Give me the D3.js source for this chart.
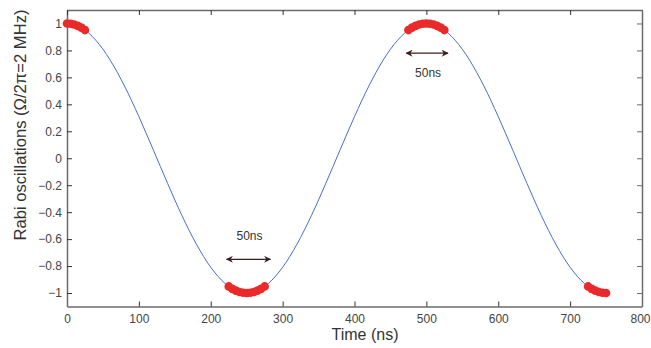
<!DOCTYPE html>
<html><head><meta charset="utf-8">
<script src="https://cdn.jsdelivr.net/npm/d3@7"></script>
<style>body{margin:0;background:#fff}svg{display:block}text{font-family:"Liberation Sans",Arial,sans-serif}</style>
</head><body>
<svg id="c" width="651" height="348"></svg>
<script>
const curveTimes = d3.range(0, 751, 10);
const curveValues = [
 1,0.992,0.969,0.930,0.876,0.809,0.729,0.637,0.536,0.426,0.309,0.187,0.063,-0.063,-0.187,-0.309,-0.426,-0.536,-0.637,-0.729,-0.809,-0.876,-0.930,-0.969,-0.992,
 -1,-0.992,-0.969,-0.930,-0.876,-0.809,-0.729,-0.637,-0.536,-0.426,-0.309,-0.187,-0.063,0.063,0.187,0.309,0.426,0.536,0.637,0.729,0.809,0.876,0.930,0.969,0.992,
 1,0.992,0.969,0.930,0.876,0.809,0.729,0.637,0.536,0.426,0.309,0.187,0.063,-0.063,-0.187,-0.309,-0.426,-0.536,-0.637,-0.729,-0.809,-0.876,-0.930,-0.969,-0.992,-1
];
// Red highlighted points
const dotTimes = [0,5,10,15,20,25, 225,230,235,240,245,250,255,260,265,270,275, 475,480,485,490,495,500,505,510,515,520,525, 725,730,735,740,745,750];
const dotValues = [1,0.998,0.992,0.982,0.969,0.951, -0.951,-0.969,-0.982,-0.992,-0.998,-1,-0.998,-0.992,-0.982,-0.969,-0.951, 0.951,0.969,0.982,0.992,0.998,1,0.998,0.992,0.982,0.969,0.951, -0.951,-0.969,-0.982,-0.992,-0.998,-1];
const xTicks = [0,100,200,300,400,500,600,700,800];
const yTicks = [-1,-0.8,-0.6,-0.4,-0.2,0,0.2,0.4,0.6,0.8,1];
// Annotations: arrow start/end (ns), y-value, label
const annStart = [222, 472];
const annEnd = [283, 530];
const annY = [-0.75, 0.78];
const annLabelY = [-0.585, 0.625];
const annLabels = ["50ns", "50ns"];

const svg = d3.select("#c");
const L = 67, R = 642, T = 10, B = 306.5;
const x = d3.scaleLinear().domain([0, 800]).range([L, R]);
const y = d3.scaleLinear().domain([-1.1, 1.1]).range([B, T]);
const axisColor = "#6b6b6b";

const fmt = d => d3.format("")(d).replace("-", "\u2212");

// axes
const gx = svg.append("g").attr("transform", `translate(0,${B})`)
  .call(d3.axisBottom(x).tickValues(xTicks).tickSizeInner(-5).tickSizeOuter(0).tickPadding(8).tickFormat(d3.format("d")));
const gy = svg.append("g").attr("transform", `translate(${L},0)`)
  .call(d3.axisLeft(y).tickValues(yTicks).tickSizeInner(-5).tickSizeOuter(0).tickPadding(5).tickFormat(fmt));
const gt = svg.append("g").attr("transform", `translate(0,${T})`)
  .call(d3.axisTop(x).tickValues(xTicks).tickSizeInner(-5).tickSizeOuter(0).tickFormat(""));
const gr = svg.append("g").attr("transform", `translate(${R},0)`)
  .call(d3.axisRight(y).tickValues(yTicks).tickSizeInner(-5).tickSizeOuter(0).tickFormat(""));
[gx, gy, gt, gr].forEach(g => {
  g.select(".domain").attr("stroke", axisColor).attr("stroke-width", 1.5);
  g.selectAll(".tick line").attr("stroke", "#333").attr("stroke-width", 1);
  g.selectAll(".tick text").attr("fill", "#444").style("font-size", "12px").style("font-family", "'Liberation Sans',Arial,sans-serif");
});
gr.selectAll(".tick line").attr("stroke", axisColor);
gx.selectAll(".tick text").filter(d => d === 800).attr("dx", -2);

// curve
const pts = curveTimes.map((t, i) => [t, curveValues[i]]);
svg.append("path").datum(pts)
  .attr("fill", "none").attr("stroke", "#4a6fc2").attr("stroke-width", 1)
  .attr("d", d3.line().x(d => x(d[0])).y(d => y(d[1])).curve(d3.curveNatural));

// red dots
svg.append("g").selectAll("circle").data(dotTimes).join("circle")
  .attr("cx", d => x(d)).attr("cy", (d, i) => y(dotValues[i])).attr("r", 4.3)
  .attr("fill", "#ea2a2a");

// arrows
const defs = svg.append("defs");
defs.append("marker").attr("id", "ah").attr("viewBox", "0 0 10 10").attr("refX", 9).attr("refY", 5)
  .attr("markerWidth", 8).attr("markerHeight", 7).attr("markerUnits", "userSpaceOnUse").attr("orient", "auto-start-reverse")
  .append("path").attr("d", "M0,0 L10,5 L0,10 L3,5 Z").attr("fill", "#3a1f1f");
annStart.forEach((s, i) => {
  svg.append("line").attr("x1", x(s)).attr("x2", x(annEnd[i])).attr("y1", y(annY[i])).attr("y2", y(annY[i]))
    .attr("stroke", "#3a1f1f").attr("stroke-width", 1.2)
    .attr("marker-start", "url(#ah)").attr("marker-end", "url(#ah)");
  svg.append("text").attr("x", x((s + annEnd[i]) / 2) + 1).attr("y", y(annLabelY[i]))
    .attr("text-anchor", "middle").attr("dominant-baseline", "middle")
    .attr("fill", "#333").style("font-size", "12px").text(annLabels[i]);
});

// axis labels
svg.append("text").attr("x", 365).attr("y", 340).attr("text-anchor", "middle")
  .attr("fill", "#333").style("font-size", "16px").text("Time (ns)");
svg.append("text").attr("transform", "translate(26,125) rotate(-90)").attr("text-anchor", "middle")
  .attr("fill", "#333").style("font-size", "16.6px").text("Rabi oscillations (\u03A9/2\u03C0=2 MHz)");
</script>
</body></html>
